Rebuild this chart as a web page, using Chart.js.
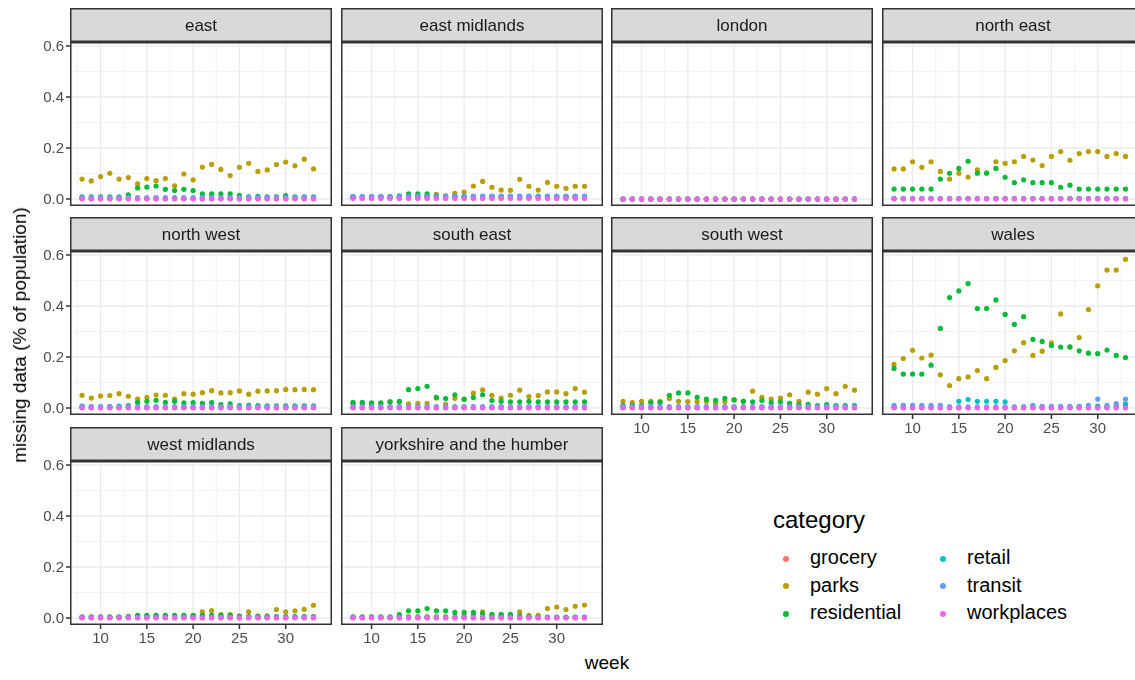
<!DOCTYPE html>
<html><head><meta charset="utf-8">
<script src="https://cdn.jsdelivr.net/npm/chart.js@4"></script>
<style>
body{margin:0;background:#fff;width:1135px;height:680px;overflow:hidden;position:relative;font-family:"Liberation Sans",Arial,sans-serif;}
canvas{position:absolute;}
.t{position:absolute;color:#000;white-space:nowrap;}
.lg{position:absolute;font-size:20px;color:#000;white-space:nowrap;}
.dot{display:inline-block;width:6px;height:6px;border-radius:50%;margin-right:21px;vertical-align:middle;}
</style></head><body>
<script>
const weeks = [8,9,10,11,12,13,14,15,16,17,18,19,20,21,22,23,24,25,26,27,28,29,30,31,32,33];
const categories = ["grocery","parks","residential","retail","transit","workplaces"];
const colours = ["#F8766D","#B79F00","#00BA38","#00BFC4","#619CFF","#F564E3"];
const regions = ["east","east midlands","london","north east","north west","south east","south west","wales","west midlands","yorkshire and the humber"];
const yTicks = [0,0.2,0.4,0.6];
const xTicks = [10,15,20,25,30];

const zeros = [0,0,0,0,0,0,0,0,0,0,0,0,0,0,0,0,0,0,0,0,0,0,0,0,0,0];
const tiny  = [0.002,0.002,0.002,0.002,0.002,0.002,0.002,0.002,0.002,0.002,0.002,0.002,0.002,0.002,0.002,0.002,0.002,0.002,0.002,0.002,0.002,0.002,0.002,0.002,0.002,0.002];
const small = [0.005,0.005,0.005,0.005,0.005,0.005,0.005,0.005,0.005,0.005,0.005,0.005,0.005,0.005,0.005,0.005,0.005,0.005,0.005,0.005,0.005,0.005,0.005,0.005,0.005,0.005];
const low   = [0.009,0.009,0.009,0.009,0.009,0.009,0.01,0.01,0.01,0.01,0.01,0.01,0.01,0.01,0.01,0.01,0.01,0.01,0.01,0.01,0.01,0.01,0.01,0.01,0.01,0.01];

const east_parks = [.078,.071,.088,.101,.078,.084,.059,.080,.072,.080,.052,.098,.075,.125,.136,.116,.092,.124,.140,.108,.114,.135,.145,.130,.156,.118];
const east_res   = [.008,.008,.008,.008,.008,.016,.043,.047,.051,.038,.033,.038,.033,.020,.020,.020,.020,.014,.008,.010,.008,.008,.013,.008,.008,.008];

const em_parks = [.008,.008,.008,.008,.008,.008,.01,.01,.012,.018,.012,.022,.027,.051,.069,.046,.035,.034,.077,.050,.035,.065,.050,.042,.050,.050];
const em_res   = [.008,.008,.008,.008,.008,.012,.02,.02,.02,.012,.01,.01,.01,.01,.01,.01,.01,.01,.01,.01,.01,.01,.01,.01,.01,.01];

const ne_parks = [.118,.118,.146,.124,.146,.108,.078,.101,.086,.114,.103,.146,.140,.146,.167,.153,.131,.167,.186,.152,.178,.186,.186,.167,.178,.167];
const ne_res   = [.039,.039,.039,.039,.039,.078,.101,.120,.148,.101,.101,.120,.085,.064,.075,.064,.064,.064,.046,.054,.039,.039,.039,.039,.039,.039];

const nw_parks = [.050,.039,.047,.049,.056,.046,.035,.042,.051,.050,.035,.056,.054,.060,.068,.059,.060,.067,.054,.066,.067,.068,.073,.072,.073,.072];
const nw_res   = [.007,.004,.004,.005,.007,.009,.022,.026,.030,.022,.026,.020,.021,.018,.021,.013,.016,.009,.010,.009,.008,.008,.008,.008,.008,.008];

const se_parks = [.016,.018,.016,.018,.024,.023,.016,.018,.018,.039,.014,.038,.035,.058,.071,.050,.039,.050,.070,.045,.049,.063,.063,.056,.076,.062];
const se_res   = [.022,.022,.020,.020,.024,.026,.072,.076,.085,.042,.037,.052,.034,.041,.052,.029,.026,.024,.024,.026,.024,.024,.024,.024,.024,.024];

const sw_parks = [.026,.021,.026,.026,.026,.037,.026,.025,.024,.025,.018,.024,.033,.026,.066,.042,.035,.039,.052,.026,.062,.054,.076,.056,.085,.070];
const sw_res   = [.009,.009,.009,.021,.021,.050,.059,.059,.042,.035,.030,.038,.031,.026,.024,.029,.021,.024,.018,.013,.014,.009,.013,.009,.009,.009];

const wa_parks = [.171,.194,.226,.196,.207,.130,.088,.115,.122,.147,.115,.159,.186,.224,.256,.206,.223,.255,.369,.240,.276,.386,.479,.541,.541,.583];
const wa_res   = [.155,.133,.133,.133,.168,.312,.433,.459,.488,.390,.390,.424,.367,.328,.358,.269,.261,.245,.239,.239,.224,.215,.213,.227,.206,.198];
const wa_retail= [.003,.003,.003,.003,.003,.003,.003,.026,.033,.026,.026,.026,.024,.003,.003,.003,.003,.003,.003,.003,.003,.003,.005,.003,.005,.016];
const wa_transit=[.010,.010,.010,.010,.010,.010,.004,.004,.004,.004,.004,.004,.004,.004,.004,.010,.006,.006,.006,.006,.006,.010,.035,.010,.017,.035];
const wa_grocery=[.002,.002,.002,.002,.002,.002,.002,.002,.002,.002,.002,.002,.002,.002,.002,.002,.002,.002,.002,.002,.002,.002,.007,.004,.004,.006];

const wm_parks = [.004,.004,.004,.004,.004,.005,.006,.006,.006,.006,.006,.006,.008,.024,.029,.013,.013,.008,.024,.008,.008,.033,.024,.028,.034,.050];
const wm_res   = [.003,.003,.003,.003,.003,.005,.010,.010,.010,.010,.010,.010,.010,.010,.010,.010,.010,.005,.005,.005,.005,.005,.005,.005,.005,.005];

const yh_parks = [.004,.004,.004,.004,.004,.005,.005,.005,.005,.005,.005,.005,.008,.010,.024,.010,.010,.010,.024,.010,.010,.037,.043,.033,.046,.051];
const yh_res   = [.003,.003,.003,.003,.003,.013,.028,.028,.037,.028,.028,.022,.022,.022,.017,.014,.014,.014,.008,.003,.003,.003,.003,.003,.003,.003];

// per region: grocery, parks, residential, retail, transit, workplaces
const series = {
 "east":[tiny,east_parks,east_res,tiny,small,zeros],
 "east midlands":[small,em_parks,em_res,low,low,tiny],
 "london":[zeros,zeros,zeros,zeros,zeros,zeros],
 "north east":[tiny,ne_parks,ne_res,tiny,tiny,zeros],
 "north west":[tiny,nw_parks,nw_res,tiny,small,zeros],
 "south east":[tiny,se_parks,se_res,tiny,small,zeros],
 "south west":[tiny,sw_parks,sw_res,tiny,small,zeros],
 "wales":[wa_grocery,wa_parks,wa_res,wa_retail,wa_transit,zeros],
 "west midlands":[tiny,wm_parks,wm_res,tiny,tiny,zeros],
 "yorkshire and the humber":[tiny,yh_parks,yh_res,tiny,tiny,zeros]
};

const colX=[70,341,611,882], PW=266, PH=164, STRIP=34, PADL=40, PADB=26;
const rowTop=[8,217,426.5];
const bottomLabels = {"west midlands":1,"yorkshire and the humber":1,"south west":1,"wales":1};

const facetPlugin = {
 id:'facet',
 beforeDatasetsDraw(c,args,o){
  const ctx=c.ctx, a=c.chartArea, xs=c.scales.x, ys=c.scales.y;
  ctx.save();
  ctx.fillStyle='#fff'; ctx.fillRect(a.left,a.top,a.width,a.height);
  ctx.strokeStyle='#ebebeb'; ctx.lineWidth=0.6;
  [0.1,0.3,0.5].forEach(v=>{const p=ys.getPixelForValue(v);ctx.beginPath();ctx.moveTo(a.left,p);ctx.lineTo(a.right,p);ctx.stroke();});
  [7.5,12.5,17.5,22.5,27.5,32.5].forEach(v=>{const p=xs.getPixelForValue(v);ctx.beginPath();ctx.moveTo(p,a.top);ctx.lineTo(p,a.bottom);ctx.stroke();});
  ctx.lineWidth=1.3;
  yTicks.forEach(v=>{const p=ys.getPixelForValue(v);ctx.beginPath();ctx.moveTo(a.left,p);ctx.lineTo(a.right,p);ctx.stroke();});
  xTicks.forEach(v=>{const p=xs.getPixelForValue(v);ctx.beginPath();ctx.moveTo(p,a.top);ctx.lineTo(p,a.bottom);ctx.stroke();});
  ctx.fillStyle='#d9d9d9'; ctx.fillRect(a.left,a.top-STRIP,a.width,STRIP);
  ctx.strokeStyle='#333'; ctx.lineWidth=1.5; ctx.strokeRect(a.left+0.75,a.top-STRIP+0.75,a.width-1.5,STRIP-1.5);
  ctx.fillStyle='#1a1a1a'; ctx.font='17px "Liberation Sans", Arial'; ctx.textAlign='center'; ctx.textBaseline='middle';
  ctx.fillText(o.title,(a.left+a.right)/2,a.top-STRIP/2+1);
  ctx.restore();
 },
 afterDraw(c,args,o){
  const ctx=c.ctx, a=c.chartArea, xs=c.scales.x, ys=c.scales.y;
  ctx.save();
  ctx.strokeStyle='#333'; ctx.lineWidth=1.5; ctx.strokeRect(a.left+0.75,a.top+0.75,a.width-1.5,a.height-1.5);
  ctx.fillStyle='#4d4d4d'; ctx.font='15px "Liberation Sans", Arial';
  if(o.left){
   ctx.textAlign='right'; ctx.textBaseline='middle';
   yTicks.forEach(v=>{const p=ys.getPixelForValue(v);ctx.beginPath();ctx.moveTo(a.left-4,p);ctx.lineTo(a.left,p);ctx.stroke();ctx.fillText(v.toFixed(1),a.left-6,p+1);});
  }
  if(o.bottom){
   ctx.textAlign='center'; ctx.textBaseline='top';
   xTicks.forEach(v=>{const p=xs.getPixelForValue(v);ctx.beginPath();ctx.moveTo(p,a.bottom);ctx.lineTo(p,a.bottom+4);ctx.stroke();ctx.fillText(String(v),p,a.bottom+6);});
  }
  ctx.restore();
 }
};

regions.forEach((r,i)=>{
 const col=i%4, row=Math.floor(i/4);
 const cv=document.createElement('canvas');
 const w=PW+PADL, h=STRIP+PH+PADB;
 const wrap=document.createElement('div');
 wrap.style.cssText=`position:absolute;left:${colX[col]-PADL}px;top:${rowTop[row]}px;width:${w}px;height:${h}px;`;
 cv.style.left='0px'; cv.style.top='0px'; cv.style.width=w+'px'; cv.style.height=h+'px';
 wrap.appendChild(cv); document.body.appendChild(wrap);
 const datasets=categories.map((cat,k)=>({
  label:cat, order:categories.length-k,
  data:weeks.map((wk,j)=>({x:wk,y:series[r][k][j]})),
  backgroundColor:colours[k], borderColor:colours[k], pointRadius:2.6, borderWidth:0, showLine:false
 }));
 new Chart(cv,{type:'scatter',data:{datasets},
  options:{responsive:false,animation:false,events:[],
   layout:{padding:{left:PADL,top:STRIP,bottom:PADB,right:0}},
   scales:{x:{type:'linear',display:false,min:6.7,max:35.0},y:{type:'linear',display:false,min:-0.0275,max:0.6157}},
   plugins:{legend:{display:false},tooltip:{enabled:false},
    facet:{title:r,left:col===0,bottom:!!bottomLabels[r]}}},
  plugins:[facetPlugin]});
});

const yt=document.createElement('div'); yt.className='t'; yt.textContent='missing data (% of population)';
yt.style.cssText+='font-size:19px;left:20px;top:335px;transform:translate(-50%,-50%) rotate(-90deg);';
document.body.appendChild(yt);
const xt=document.createElement('div'); xt.className='t'; xt.textContent='week';
xt.style.cssText+='font-size:19px;left:607px;top:663px;transform:translate(-50%,-50%);';
document.body.appendChild(xt);

const lt=document.createElement('div'); lt.className='t'; lt.textContent='category';
lt.style.cssText+='font-size:24px;left:773px;top:506px;';
document.body.appendChild(lt);
categories.forEach((cat,k)=>{
 const col=Math.floor(k/3), row=k%3;
 const d=document.createElement('div'); d.className='lg';
 d.style.left=(783+col*157)+'px'; d.style.top=(546+row*27.5)+'px';
 d.innerHTML=`<span class="dot" style="background:${colours[k]}"></span>${cat}`;
 document.body.appendChild(d);
});
</script>
</body></html>
